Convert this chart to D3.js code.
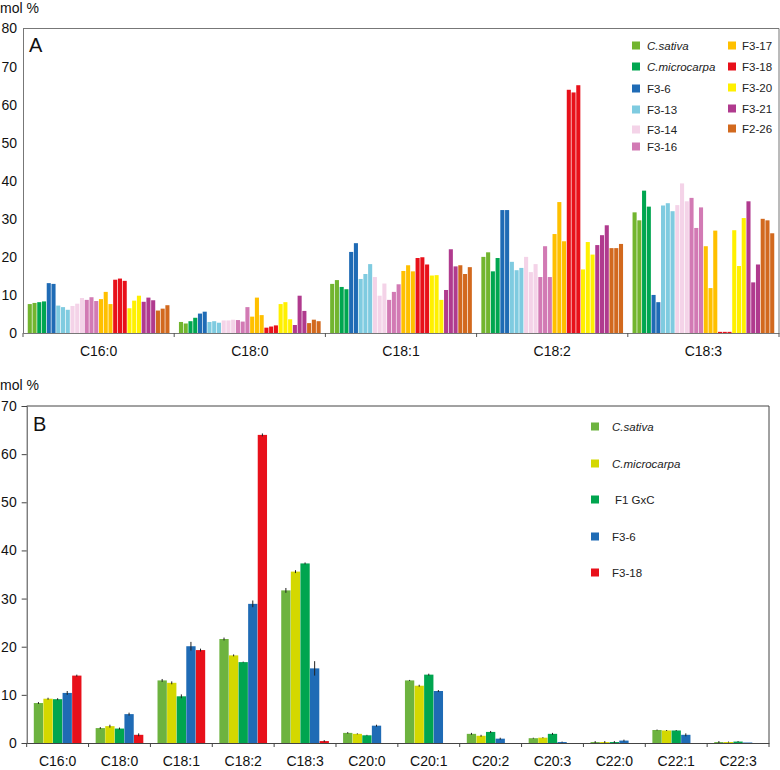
<!DOCTYPE html>
<html>
<head>
<meta charset="utf-8">
<script src="https://cdn.jsdelivr.net/npm/d3@7/dist/d3.min.js"></script>
<style>
  html, body { margin: 0; padding: 0; background: #fff; }
  svg { display: block; font-family: "Liberation Sans", Arial, Helvetica, sans-serif; }
</style>
</head>
<body>
<svg id="chart" width="780" height="770"></svg>
<script>
// ---------- Panel A data ----------
const fattyA = ["C16:0", "C18:0", "C18:1", "C18:2", "C18:3"];
const linesA = ["C.sativa", "C.microcarpa", "F3-6", "F3-13", "F3-14", "F3-16", "F3-17", "F3-18", "F3-20", "F3-21", "F2-26"];
const colorsA = ["#72b52f", "#00a650", "#1f6bb5", "#7fcbe0", "#f4d3e8", "#d27ab4", "#ffc000", "#e8101a", "#fff000", "#b03a8e", "#d2691e"];
// replicate values per fatty acid (mol %)
const aSativa      = [[7.6, 7.9], [2.9, 2.5], [12.9, 13.9], [20.0, 21.2], [31.7, 29.6]];
const aMicrocarpa  = [[8.1, 8.3], [3.1, 4.0], [12.1, 11.5], [16.2, 19.7], [37.4, 33.2]];
const aF3_6        = [[13.1, 12.9], [5.1, 5.6], [21.3, 23.6], [32.3, 32.3], [10.0, 8.1]];
const aF3_13       = [[7.2, 6.8, 6.1], [2.9, 3.1, 2.7], [14.2, 15.5, 18.1], [18.7, 16.5, 17.1], [33.5, 34.1, 32.0]];
const aF3_14       = [[7.1, 7.7, 9.2], [3.3, 3.3, 3.5], [14.7, 9.8, 13.0], [20.0, 16.0, 18.1], [33.6, 39.3, 34.6]];
const aF3_16       = [[8.7, 9.4, 8.4], [3.4, 3.0, 6.8], [8.7, 10.8, 12.8], [14.7, 22.8, 14.7], [35.5, 27.6, 33.0]];
const aF3_17       = [[8.9, 10.8, 7.6], [4.3, 9.3, 4.7], [16.3, 17.8, 16.2], [26.0, 34.4, 24.1], [22.8, 11.8, 26.9]];
const aF3_18       = [[14.0, 14.3, 13.7], [1.4, 1.7, 2.0], [19.7, 19.9, 18.0], [63.9, 63.2, 65.1], [0.3, 0.3, 0.3]];
const aF3_20       = [[6.5, 8.5, 9.8], [7.6, 8.1, 3.6], [15.1, 15.2, 8.7], [16.7, 23.9, 20.6], [27.0, 17.6, 30.2]];
const aF3_21       = [[8.2, 9.3, 8.6], [2.1, 9.8, 5.8], [11.3, 22.0, 17.5], [23.1, 25.7, 28.3], [34.6, 13.3, 18.0]];
const aF2_26       = [[5.9, 6.4, 7.3], [2.6, 3.5, 3.1], [17.8, 15.5, 17.3], [22.3, 22.3, 23.4], [30.0, 29.6, 26.2]];
const seriesA = [aSativa, aMicrocarpa, aF3_6, aF3_13, aF3_14, aF3_16, aF3_17, aF3_18, aF3_20, aF3_21, aF2_26];
const ticksA = [0, 10, 20, 30, 40, 50, 60, 70, 80];

// ---------- Panel B data ----------
const fattyB = ["C16:0", "C18:0", "C18:1", "C18:2", "C18:3", "C20:0", "C20:1", "C20:2", "C20:3", "C22:0", "C22:1", "C22:3"];
const linesB = ["C.sativa", "C.microcarpa", "F1 GxC", "F3-6", "F3-18"];
const colorsB = ["#6db33f", "#d4d800", "#00a54f", "#1f6bb5", "#e8101a"];
const bSativa     = [8.3, 3.1, 13.0, 21.6, 31.7, 2.1, 13.0, 1.9, 1.0, 0.2, 2.7, 0.2];
const bMicrocarpa = [9.2, 3.5, 12.5, 18.2, 35.6, 1.9, 11.9, 1.5, 1.1, 0.2, 2.6, 0.2];
const bF1         = [9.1, 3.0, 9.7, 16.8, 37.3, 1.6, 14.2, 2.3, 1.9, 0.2, 2.6, 0.3];
const bF3_6       = [10.4, 6.0, 20.1, 28.9, 15.5, 3.6, 10.8, 0.9, 0.2, 0.5, 1.7, 0.1];
const bF3_18      = [14.0, 1.7, 19.3, 64.0, 0.4, null, null, null, null, null, null, null];
const seriesB = [bSativa, bMicrocarpa, bF1, bF3_6, bF3_18];
const errSativa     = [0.2, 0.2, 0.3, 0.3, 0.5, 0.15, 0.1, 0.2, 0.1, 0.2, 0.1, 0.2];
const errMicrocarpa = [0.2, 0.3, 0.3, 0.2, 0.3, 0.1, 0.2, 0.2, 0.1, 0.2, 0.1, 0.1];
const errF1         = [0.2, 0.2, 0.4, 0.1, 0.2, 0.1, 0.2, 0.2, 0.2, 0.2, 0.1, 0.1];
const errF3_6       = [0.4, 0.3, 0.9, 0.7, 1.5, 0.2, 0.2, 0.2, 0.1, 0.2, 0.3, 0.0];
const errF3_18      = [0.2, 0.3, 0.3, 0.3, 0.2, null, null, null, null, null, null, null];
const errorsB = [errSativa, errMicrocarpa, errF1, errF3_6, errF3_18];
const ticksB = [0, 10, 20, 30, 40, 50, 60, 70];

const svg = d3.select("#chart");
const FONT = 14;
const LEGFONT = 11.5;

// ================= PANEL A =================
{
  const left = 23, right = 779, top = 28.5, bottom = 333;
  const x = d3.scaleBand().domain(fattyA).range([left, right]).padding(0);
  const slots = [];
  linesA.forEach((name, si) => {
    seriesA[si][0].forEach((_, ri) => slots.push({ si, ri }));
  });
  const inner = d3.scaleBand().domain(d3.range(slots.length)).range([0, x.bandwidth()])
    .paddingInner(0.14).paddingOuter(1.0);
  const y = d3.scaleLinear().domain([0, 80]).range([bottom, top]);

  const g = svg.append("g");
  const bars = [];
  fattyA.forEach((fa, fi) => {
    slots.forEach((s, k) => {
      bars.push({ fa, k, v: seriesA[s.si][fi][s.ri], color: colorsA[s.si] });
    });
  });
  g.selectAll("rect.barA").data(bars).enter().append("rect")
    .attr("class", "barA")
    .attr("x", d => x(d.fa) + inner(d.k))
    .attr("width", inner.bandwidth())
    .attr("y", d => y(d.v))
    .attr("height", d => y(0) - y(d.v))
    .attr("fill", d => d.color);

  // frame
  g.append("path")
    .attr("d", `M${left},${top}H${right}V${bottom}`)
    .attr("fill", "none").attr("stroke", "#777").attr("stroke-width", 1);

  const yAxis = d3.axisLeft(y).tickValues(ticksA).tickSize(0).tickPadding(6);
  const ya = g.append("g").attr("transform", `translate(${left},0)`).call(yAxis);
  ya.select(".domain").attr("stroke", "#777");
  ya.selectAll("text").attr("font-size", FONT).attr("fill", "#111").attr("font-family", "Liberation Sans, Arial, sans-serif");

  const xAxis = d3.axisBottom(x).tickSize(0).tickPadding(13);
  const xa = g.append("g").attr("transform", `translate(0,${bottom})`).call(xAxis);
  xa.select(".domain").attr("stroke", "#777");
  xa.selectAll("text").attr("font-size", FONT).attr("fill", "#111").attr("font-family", "Liberation Sans, Arial, sans-serif");
  // boundary ticks
  const bounds = fattyA.map(f => x(f)).concat([right]);
  g.selectAll("line.tickA").data(bounds).enter().append("line")
    .attr("x1", d => d).attr("x2", d => d)
    .attr("y1", bottom).attr("y2", bottom + 4)
    .attr("stroke", "#555");

  g.append("text").attr("x", 0).attr("y", 13).attr("font-size", FONT).attr("fill", "#111").text("mol %");
  g.append("text").attr("x", 29).attr("y", 52).attr("font-size", 20).attr("fill", "#111").text("A");

  // legend
  const legCols = [{ sx: 632, tx: 647, ys: [46, 67, 89, 110, 130, 147] },
                   { sx: 728, tx: 742, ys: [46, 67, 88, 109, 129] }];
  linesA.forEach((name, i) => {
    const col = i < 6 ? legCols[0] : legCols[1];
    const yy = col.ys[i < 6 ? i : i - 6];
    g.append("rect").attr("x", col.sx).attr("y", yy - 4.5).attr("width", 8).attr("height", 8)
      .attr("fill", colorsA[i]);
    g.append("text").attr("x", col.tx).attr("y", yy + 4).attr("font-size", LEGFONT)
      .attr("fill", "#222")
      .attr("font-style", i < 2 ? "italic" : "normal")
      .text(name);
  });
}

// ================= PANEL B =================
{
  const left = 26.7, right = 769, top = 406, bottom = 743;
  const x = d3.scaleBand().domain(fattyB).range([left, right]).padding(0);
  const inner = d3.scaleBand().domain(d3.range(linesB.length)).range([0, x.bandwidth()])
    .paddingInner(0.03).paddingOuter(0.74);
  const y = d3.scaleLinear().domain([0, 70]).range([bottom, top]);

  const g = svg.append("g");
  const bars = [];
  fattyB.forEach((fa, fi) => {
    linesB.forEach((name, si) => {
      const v = seriesB[si][fi];
      if (v !== null) bars.push({ fa, si, v, e: errorsB[si][fi], color: colorsB[si] });
    });
  });
  g.selectAll("rect.barB").data(bars).enter().append("rect")
    .attr("class", "barB")
    .attr("x", d => x(d.fa) + inner(d.si))
    .attr("width", inner.bandwidth())
    .attr("y", d => y(d.v))
    .attr("height", d => y(0) - y(d.v))
    .attr("fill", d => d.color);
  g.selectAll("line.errB").data(bars.filter(d => d.e > 0)).enter().append("line")
    .attr("class", "errB")
    .attr("x1", d => x(d.fa) + inner(d.si) + inner.bandwidth() / 2)
    .attr("x2", d => x(d.fa) + inner(d.si) + inner.bandwidth() / 2)
    .attr("y1", d => y(d.v + d.e)).attr("y2", d => y(Math.max(0, d.v - d.e)))
    .attr("stroke", "#222").attr("stroke-width", 1);

  g.append("path")
    .attr("d", `M${left},${top}H${right}V${bottom}`)
    .attr("fill", "none").attr("stroke", "#444").attr("stroke-width", 1);

  const yAxis = d3.axisLeft(y).tickValues(ticksB).tickSize(5).tickPadding(5);
  const ya = g.append("g").attr("transform", `translate(${left},0)`).call(yAxis);
  ya.select(".domain").attr("stroke", "#444");
  ya.selectAll(".tick line").attr("stroke", "#444");
  ya.selectAll("text").attr("font-size", FONT).attr("fill", "#111").attr("font-family", "Liberation Sans, Arial, sans-serif");

  const xAxis = d3.axisBottom(x).tickSize(0).tickPadding(13);
  const xa = g.append("g").attr("transform", `translate(0,${bottom})`).call(xAxis);
  xa.select(".domain").attr("stroke", "#444");
  xa.selectAll("text").attr("font-size", FONT).attr("fill", "#111").attr("font-family", "Liberation Sans, Arial, sans-serif");
  const bounds = fattyB.map(f => x(f)).concat([right]);
  g.selectAll("line.tickB").data(bounds).enter().append("line")
    .attr("x1", d => d).attr("x2", d => d)
    .attr("y1", bottom).attr("y2", bottom + 4)
    .attr("stroke", "#444");

  g.append("text").attr("x", 0).attr("y", 390).attr("font-size", FONT).attr("fill", "#111").text("mol %");
  g.append("text").attr("x", 33).attr("y", 431).attr("font-size", 20).attr("fill", "#111").text("B");

  const legY = [427, 464, 500, 537, 573];
  linesB.forEach((name, i) => {
    g.append("rect").attr("x", 591).attr("y", legY[i] - 4.5).attr("width", 8).attr("height", 8)
      .attr("fill", colorsB[i]);
    g.append("text").attr("x", i === 2 ? 615 : 612).attr("y", legY[i] + 4).attr("font-size", LEGFONT)
      .attr("fill", "#222")
      .attr("font-style", i < 2 ? "italic" : "normal")
      .text(name);
  });
}
</script>
</body>
</html>
